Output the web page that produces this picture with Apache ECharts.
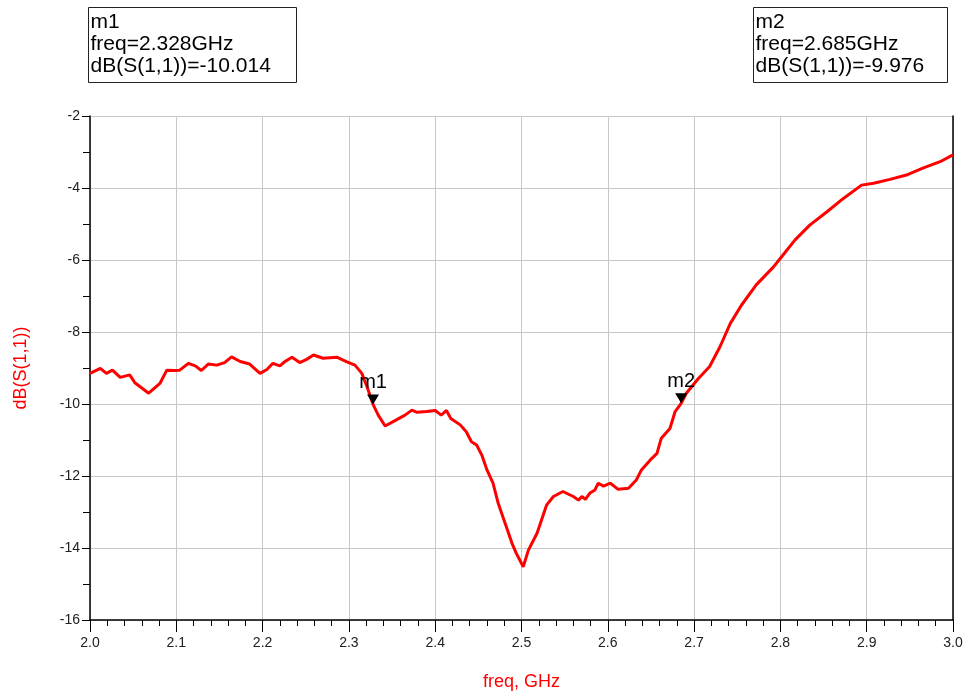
<!DOCTYPE html>
<html>
<head>
<meta charset="utf-8">
<script src="https://cdn.jsdelivr.net/npm/echarts@6/dist/echarts.min.js"></script>
<style>
  html, body { margin: 0; padding: 0; background: #fff; }
  #chart { width: 963px; height: 693px; }
</style>
</head>
<body>
<div id="chart"></div>
<script>
// S11 curve
const freq = [2.000, 2.012, 2.019, 2.026, 2.035, 2.046, 2.052, 2.068, 2.081, 2.089, 2.098, 2.104,
  2.114, 2.122, 2.129, 2.137, 2.147, 2.156, 2.164, 2.174, 2.185, 2.197, 2.205, 2.212, 2.220, 2.226,
  2.234, 2.243, 2.251, 2.259, 2.270, 2.286, 2.297, 2.307, 2.315, 2.321, 2.328, 2.334, 2.342, 2.355,
  2.365, 2.373, 2.379, 2.390, 2.400, 2.407, 2.413, 2.418, 2.429, 2.436, 2.442, 2.448, 2.454, 2.460,
  2.467, 2.473, 2.481, 2.489, 2.494, 2.502, 2.508, 2.518, 2.529, 2.537, 2.548, 2.560, 2.566, 2.570,
  2.574, 2.579, 2.585, 2.589, 2.595, 2.603, 2.612, 2.624, 2.633, 2.639, 2.649, 2.657, 2.662, 2.672,
  2.678, 2.685, 2.691, 2.705, 2.718, 2.730, 2.742, 2.755, 2.772, 2.792, 2.800, 2.817, 2.834, 2.854,
  2.873, 2.894, 2.908, 2.927, 2.946, 2.965, 2.985, 3.000];
const s11 = [-9.15, -9.01, -9.15, -9.06, -9.26, -9.19, -9.41, -9.70, -9.43, -9.06, -9.07, -9.06,
  -8.87, -8.94, -9.07, -8.89, -8.92, -8.85, -8.69, -8.82, -8.89, -9.15, -9.04, -8.87, -8.94, -8.82,
  -8.70, -8.85, -8.76, -8.64, -8.73, -8.70, -8.82, -8.92, -9.15, -9.52, -10.01, -10.31, -10.61, -10.44,
  -10.31, -10.17, -10.23, -10.21, -10.18, -10.31, -10.18, -10.40, -10.58, -10.77, -11.05, -11.14, -11.42, -11.83,
  -12.20, -12.76, -13.31, -13.87, -14.15, -14.52, -14.06, -13.59, -12.81, -12.57, -12.43, -12.57, -12.67, -12.57,
  -12.65, -12.48, -12.39, -12.20, -12.28, -12.20, -12.37, -12.34, -12.11, -11.83, -11.56, -11.37, -10.95, -10.68,
  -10.21, -9.98, -9.70, -9.29, -8.96, -8.41, -7.76, -7.25, -6.69, -6.19, -5.95, -5.44, -5.03, -4.66,
  -4.29, -3.92, -3.87, -3.76, -3.64, -3.45, -3.27, -3.08];

// markers
const markerNames = ['m1', 'm2'];
const markerFreq = [2.328, 2.685];
const markerVal = [-10.014, -9.976];

const font = '"Liberation Sans", Arial, sans-serif';

let myChart = echarts.init(document.getElementById('chart'));

const boxes = markerNames.map((name, i) => ({
  type: 'group',
  left: i === 0 ? 88 : 753,
  top: 7,
  children: [
    {
      type: 'rect',
      shape: { x: 0, y: 0, width: i === 0 ? 208 : 194, height: 75 },
      style: { fill: '#fff', stroke: '#222', lineWidth: 1 }
    },
    {
      type: 'text',
      left: 2, top: 4,
      style: {
        text: name + '\nfreq=' + markerFreq[i].toFixed(3) + 'GHz\ndB(S(1,1))=' + markerVal[i].toFixed(3),
        font: '21px ' + font,
        fill: '#000',
        lineHeight: 22
      }
    }
  ]
}));

myChart.setOption({
  animation: false,
  grid: { left: 90, top: 116, right: 10, bottom: 73, outerBoundsMode: 'none' },
  graphic: boxes,
  xAxis: {
    type: 'value',
    min: 2.0,
    max: 3.0,
    interval: 0.1,
    name: 'freq, GHz',
    nameLocation: 'middle',
    nameGap: 53,
    nameTextStyle: { color: '#ff0000', fontSize: 18, fontFamily: font },
    axisLine: { lineStyle: { color: '#000', width: 1.5 } },
    axisTick: { length: 12, lineStyle: { color: '#000' } },
    minorTick: { show: true, splitNumber: 5, length: 6, lineStyle: { color: '#000' } },
    axisLabel: {
      color: '#222', fontSize: 14, fontFamily: font, margin: 16,
      formatter: v => v.toFixed(1)
    },
    splitLine: { show: true, lineStyle: { color: '#c8c8c8', width: 1 } }
  },
  yAxis: [
    {
      type: 'value',
      min: -16,
      max: -2,
      interval: 2,
      name: 'dB(S(1,1))',
      nameLocation: 'middle',
      nameGap: 60,
      nameTextStyle: { color: '#ff0000', fontSize: 18, fontFamily: font },
      axisLine: { show: true, onZero: false, lineStyle: { color: '#000', width: 1.5 } },
      axisTick: { length: 8, lineStyle: { color: '#000' } },
      minorTick: { show: true, splitNumber: 2, length: 7, lineStyle: { color: '#000' } },
      axisLabel: { color: '#222', fontSize: 14, fontFamily: font, margin: 10 },
      splitLine: { show: true, lineStyle: { color: '#c8c8c8', width: 1 } }
    },
    {
      // right frame line
      type: 'value',
      position: 'right',
      min: -16,
      max: -2,
      axisLine: { show: true, lineStyle: { color: '#000', width: 1.5 } },
      axisTick: { show: false },
      axisLabel: { show: false },
      splitLine: { show: false }
    }
  ],
  series: [
    {
      type: 'line',
      name: 'dB(S(1,1))',
      data: freq.map((f, i) => [f, s11[i]]),
      symbol: 'none',
      smooth: false,
      lineStyle: { color: '#ff0000', width: 3 },
      markPoint: {
        symbol: 'triangle',
        symbolSize: [12, 10],
        symbolRotate: 180,
        symbolOffset: [0, -5],
        itemStyle: { color: '#000' },
        label: {
          show: true,
          position: 'top',
          distance: 2,
          color: '#000',
          fontSize: 20,
          fontFamily: font,
          formatter: p => p.name
        },
        data: markerNames.map((n, i) => ({ name: n, coord: [markerFreq[i], markerVal[i]] }))
      }
    }
  ]
});
window.onresize = function () {
  myChart.resize();
};
</script>
</body>
</html>
